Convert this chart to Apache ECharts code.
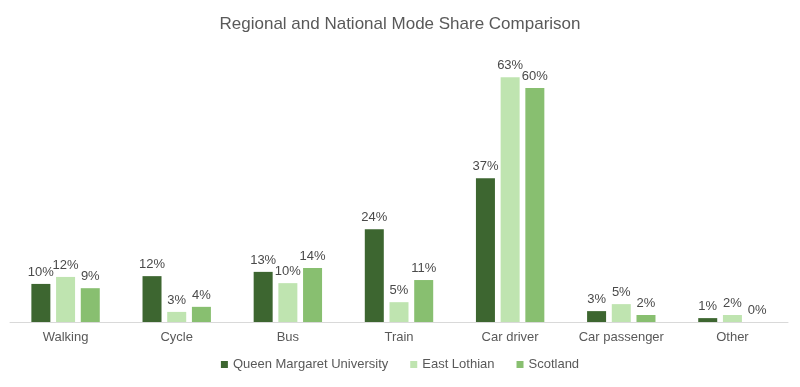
<!DOCTYPE html>
<html><head><meta charset="utf-8">
<script src="https://cdn.jsdelivr.net/npm/echarts@6/dist/echarts.min.js"></script>
<style>html,body{margin:0;padding:0;background:#fff}#c{width:800px;height:387px}</style>
</head><body><div id="c"></div>
<script>
const categories = ['Walking','Cycle','Bus','Train','Car driver','Car passenger','Other'];
const qmu = [9.8, 11.8, 12.9, 23.9, 37.0, 2.8, 1.0];
const eastLothian = [11.6, 2.6, 10.0, 5.1, 63.0, 4.6, 1.8];
const scotland = [8.7, 3.9, 13.9, 10.8, 60.2, 1.8, 0.0];
const seriesNames = ['Queen Margaret University','East Lothian','Scotland'];
const colors = ['#3d6630','#bfe4b0','#88bf70'];

const chart = echarts.init(document.getElementById('c'));
const lbl = {show:true, position:'top', distance:5, color:'#4a4a4a', fontSize:13, fontFamily:'Liberation Sans, Arial',
  formatter: p => Math.round(p.value) + '%'};
chart.setOption({
  animation:false,
  title:{text:'Regional and National Mode Share Comparison', left:'center', top:11,
    textStyle:{fontSize:17, fontWeight:'normal', color:'#595959', fontFamily:'Liberation Sans, Arial'}},
  legend:{bottom:11, left:'center', itemWidth:7, itemHeight:7, itemGap:22, icon:'rect',
    textStyle:{fontSize:13, color:'#595959', fontFamily:'Liberation Sans, Arial'}, data:seriesNames},
  grid:{left:10, right:12, top:50, bottom:65, containLabel:false},
  xAxis:{type:'category', data:categories, axisTick:{show:false},
    axisLine:{lineStyle:{color:'#d9d9d9', width:1}},
    axisLabel:{fontSize:13, color:'#595959', margin:9, fontFamily:'Liberation Sans, Arial'}},
  yAxis:{type:'value', min:0, max:70, show:false, splitLine:{show:false}},
  series:[
    {name:seriesNames[0], type:'bar', data:qmu, itemStyle:{color:colors[0]}, barWidth:19, barGap:'30%', label:lbl},
    {name:seriesNames[1], type:'bar', data:eastLothian, itemStyle:{color:colors[1]}, barWidth:19, barGap:'30%', label:lbl},
    {name:seriesNames[2], type:'bar', data:scotland, itemStyle:{color:colors[2]}, barWidth:19, barGap:'30%', label:lbl}
  ]
});
</script></body></html>
